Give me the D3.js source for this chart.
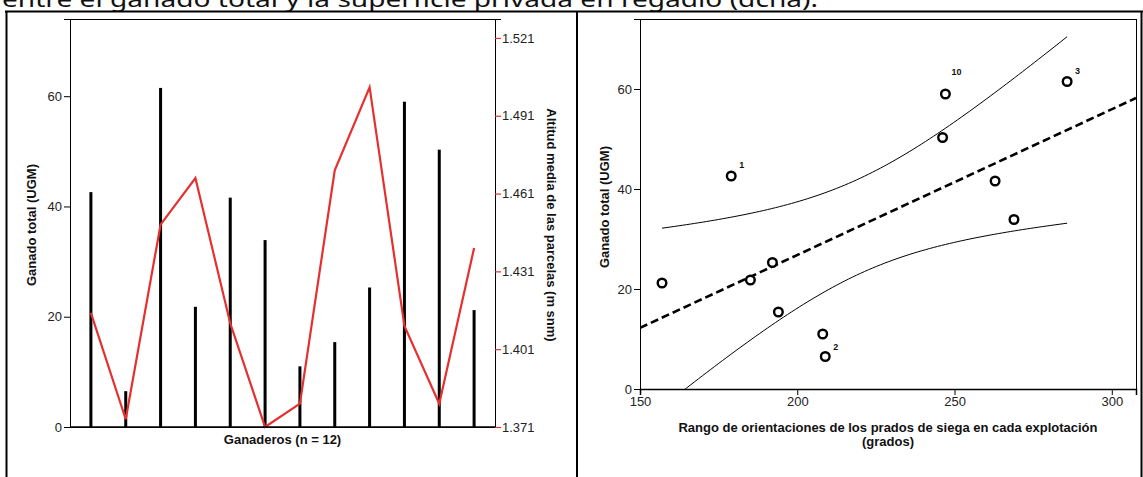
<!DOCTYPE html>
<html>
<head>
<meta charset="utf-8">
<script src="https://cdn.jsdelivr.net/npm/d3@7"></script>
<style>
  html, body { margin: 0; padding: 0; background: #fff; overflow: hidden; }
  svg { display: block; }
  text { font-family: "Liberation Sans", Arial, sans-serif; }
</style>
</head>
<body>
<svg id="chart" width="1143" height="477"></svg>
<script>
// Farmers (n = 12) and their values
const farmers = [1, 2, 3, 4, 5, 6, 7, 8, 9, 10, 11, 12];
const livestock = [42.6, 6.5, 61.5, 21.8, 41.6, 33.9, 11.0, 15.4, 25.3, 59.0, 50.3, 21.2];          // UGM
const altitude = [1415, 1374, 1449, 1467, 1411, 1371, 1380, 1470, 1502, 1410, 1380, 1440];         // m snm
const orientationRange = [179.0, 208.9, 285.8, 185.1, 262.9, 268.9, 208.1, 194.0, 192.1, 247.1, 246.2, 157.0]; // grados

// Axis ticks
const livestockTicks = [0, 20, 40, 60];
const altitudeTicks = [1371, 1401, 1431, 1461, 1491, 1521];
const rangeTicks = [150, 200, 250, 300];

// Farmers whose case number is printed next to their point
const labelledFarmers = [1, 2, 3, 10];

// Student t critical value, 95 %, df = n - 2 = 10
const T_CRIT = 2.228;

const caption = "entre el ganado total y la superficie privada en regadío (dcha).";

const svg = d3.select("#chart");
const es = d3.formatLocale({ decimal: ",", thousands: ".", grouping: [3], currency: ["", " €"] });
const fmtAlt = es.format(",d");
const RED = "#e5302f";
const TICK_COLOR = "#222";

// ---- caption and table frame ----
svg.append("text")
  .attr("x", 2).attr("y", 7)
  .attr("font-family", "'Noto Sans', 'Open Sans', sans-serif")
  .style("font-family", "'Noto Sans', 'Open Sans', sans-serif")
  .attr("font-size", 22)
  .attr("textLength", 816)
  .attr("lengthAdjust", "spacingAndGlyphs")
  .attr("fill", "#111")
  .text(caption);

const frame = svg.append("g").attr("stroke", "#000").attr("stroke-width", 2);
frame.append("line").attr("x1", 5).attr("x2", 1143).attr("y1", 11.5).attr("y2", 11.5);
frame.append("line").attr("x1", 6.5).attr("x2", 6.5).attr("y1", 11).attr("y2", 477);
frame.append("line").attr("x1", 577).attr("x2", 577).attr("y1", 11).attr("y2", 477);
frame.append("line").attr("x1", 1141.5).attr("x2", 1141.5).attr("y1", 11).attr("y2", 477);

// =========================================================
// Left panel: livestock per farmer (spikes) + mean altitude (red line)
// =========================================================
const L = { left: 70, right: 495, top: 19, bottom: 427 };

const xL = d3.scalePoint().domain(farmers).range([L.left, L.right]).padding(0.6);
const yL = d3.scaleLinear().domain([0, 74]).range([L.bottom, L.top]);
const yAlt = d3.scaleLinear().domain([1371, 1528.3]).range([L.bottom, L.top]);

const left = svg.append("g");

// plot box
left.append("rect")
  .attr("x", L.left).attr("y", L.top)
  .attr("width", L.right - L.left).attr("height", L.bottom - L.top)
  .attr("fill", "none").attr("stroke", "#000").attr("stroke-width", 1)
  .attr("shape-rendering", "crispEdges");

// spikes
left.append("g").selectAll("rect")
  .data(farmers)
  .join("rect")
  .attr("x", (d) => xL(d) - 1.5)
  .attr("width", 3)
  .attr("y", (d, i) => yL(livestock[i]))
  .attr("height", (d, i) => yL(0) - yL(livestock[i]))
  .attr("fill", "#000");

// altitude line
left.append("path")
  .datum(farmers)
  .attr("fill", "none")
  .attr("stroke", RED)
  .attr("stroke-width", 2.2)
  .attr("stroke-linejoin", "miter")
  .attr("d", d3.line().x((d) => xL(d)).y((d, i) => yAlt(altitude[i])));

// left y axis
const axL = left.append("g")
  .attr("transform", `translate(${L.left},0)`)
  .call(d3.axisLeft(yL).tickValues(livestockTicks).tickSize(6).tickPadding(2).tickFormat(d3.format("d")));
axL.select(".domain").attr("stroke", "#000");
axL.selectAll(".tick line").attr("stroke", "#000");
axL.selectAll(".tick text").attr("font-size", 13).attr("fill", TICK_COLOR)
  .style("font-family", "'Liberation Sans', Arial, sans-serif");

// right y axis (altitude)
const axR = left.append("g")
  .attr("transform", `translate(${L.right},0)`)
  .call(d3.axisRight(yAlt).tickValues(altitudeTicks).tickSize(6).tickPadding(1).tickFormat(fmtAlt));
axR.select(".domain").attr("stroke", "#000");
axR.selectAll(".tick line").attr("stroke", RED).attr("stroke-width", 1.2);
axR.selectAll(".tick text").attr("font-size", 13).attr("fill", TICK_COLOR)
  .style("font-family", "'Liberation Sans', Arial, sans-serif");

// bottom axis line
left.append("line")
  .attr("x1", L.left).attr("x2", L.right)
  .attr("y1", L.bottom).attr("y2", L.bottom)
  .attr("stroke", "#000").attr("stroke-width", 1.5);

// titles
left.append("text")
  .attr("transform", `translate(36,${(L.top + L.bottom) / 2 + 2}) rotate(-90)`)
  .attr("text-anchor", "middle")
  .attr("font-size", 13).attr("font-weight", "bold").attr("fill", "#111")
  .text("Ganado total (UGM)");

left.append("text")
  .attr("transform", `translate(547,${(L.top + L.bottom) / 2 + 2}) rotate(90)`)
  .attr("text-anchor", "middle")
  .attr("font-size", 13).attr("font-weight", "bold").attr("fill", "#111")
  .text("Altitud media de las parcelas (m snm)");

left.append("text")
  .attr("x", (L.left + L.right) / 2).attr("y", 444)
  .attr("text-anchor", "middle")
  .attr("font-size", 13).attr("font-weight", "bold").attr("fill", "#111")
  .text("Ganaderos (n = 12)");

// =========================================================
// Right panel: livestock vs orientation range, OLS fit + 95 % CI
// =========================================================
const R = { left: 640, right: 1136, top: 19, bottom: 389 };

const xR = d3.scaleLinear().domain([150, 307.7]).range([R.left, R.right]);
const yR = d3.scaleLinear().domain([0, 74]).range([R.bottom, R.top]);

const right = svg.append("g");

right.append("defs").append("clipPath").attr("id", "plotClip")
  .append("rect")
  .attr("x", R.left).attr("y", R.top)
  .attr("width", R.right - R.left).attr("height", R.bottom - R.top);

right.append("rect")
  .attr("x", R.left).attr("y", R.top)
  .attr("width", R.right - R.left).attr("height", R.bottom - R.top)
  .attr("fill", "none").attr("stroke", "#000").attr("stroke-width", 1)
  .attr("shape-rendering", "crispEdges");

// least squares fit
const n = farmers.length;
const mx = d3.mean(orientationRange);
const my = d3.mean(livestock);
let sxx = 0, sxy = 0;
for (let i = 0; i < n; i++) {
  sxx += (orientationRange[i] - mx) ** 2;
  sxy += (orientationRange[i] - mx) * (livestock[i] - my);
}
const slope = sxy / sxx;
const intercept = my - slope * mx;
let sse = 0;
for (let i = 0; i < n; i++) {
  sse += (livestock[i] - (intercept + slope * orientationRange[i])) ** 2;
}
const s = Math.sqrt(sse / (n - 2));
const fit = (x) => intercept + slope * x;
const halfWidth = (x) => T_CRIT * s * Math.sqrt(1 / n + (x - mx) ** 2 / sxx);

const plotArea = right.append("g").attr("clip-path", "url(#plotClip)");

// confidence band for the mean (from min to max observed x)
const [xmin, xmax] = d3.extent(orientationRange);
const bandX = d3.range(0, 101).map((k) => xmin + (xmax - xmin) * k / 100);
const ciLine = (sign) => d3.line()
  .x((x) => xR(x))
  .y((x) => yR(fit(x) + sign * halfWidth(x)))
  .curve(d3.curveLinear);

plotArea.append("path").datum(bandX)
  .attr("fill", "none").attr("stroke", "#000").attr("stroke-width", 1)
  .attr("d", ciLine(1));
plotArea.append("path").datum(bandX)
  .attr("fill", "none").attr("stroke", "#000").attr("stroke-width", 1)
  .attr("d", ciLine(-1));

// regression line across the whole x range
plotArea.append("line")
  .attr("x1", xR(xR.domain()[0])).attr("y1", yR(fit(xR.domain()[0])))
  .attr("x2", xR(xR.domain()[1])).attr("y2", yR(fit(xR.domain()[1])))
  .attr("stroke", "#000").attr("stroke-width", 2.6)
  .attr("stroke-dasharray", "8,4");

// points
right.append("g").selectAll("circle")
  .data(farmers)
  .join("circle")
  .attr("cx", (d, i) => xR(orientationRange[i]))
  .attr("cy", (d, i) => yR(livestock[i]))
  .attr("r", 4.3)
  .attr("fill", "#fff")
  .attr("stroke", "#000")
  .attr("stroke-width", 2.4);

// case labels
const labelOffset = { 1: [8, -8], 2: [8, -7], 3: [8, -8], 10: [6, -19] };
right.append("g").selectAll("text")
  .data(labelledFarmers)
  .join("text")
  .attr("x", (d) => xR(orientationRange[d - 1]) + labelOffset[d][0])
  .attr("y", (d) => yR(livestock[d - 1]) + labelOffset[d][1])
  .attr("font-size", 9).attr("font-weight", "bold").attr("fill", "#111")
  .text((d) => d);

// axes
const axY = right.append("g")
  .attr("transform", `translate(${R.left},0)`)
  .call(d3.axisLeft(yR).tickValues(livestockTicks).tickSize(6).tickPadding(2).tickFormat(d3.format("d")));
axY.select(".domain").attr("stroke", "#000");
axY.selectAll(".tick line").attr("stroke", "#000");
axY.selectAll(".tick text").attr("font-size", 13).attr("fill", TICK_COLOR)
  .style("font-family", "'Liberation Sans', Arial, sans-serif");

const axX = right.append("g")
  .attr("transform", `translate(0,${R.bottom})`)
  .call(d3.axisBottom(xR).tickValues(rangeTicks).tickSize(6).tickPadding(2).tickFormat(d3.format("d")));
axX.select(".domain").attr("stroke", "#000").attr("stroke-width", 1.5);
axX.selectAll(".tick line").attr("stroke", "#000");
axX.selectAll(".tick text").attr("font-size", 13).attr("fill", TICK_COLOR)
  .style("font-family", "'Liberation Sans', Arial, sans-serif");

right.append("text")
  .attr("transform", `translate(609,${(R.top + R.bottom) / 2 + 3}) rotate(-90)`)
  .attr("text-anchor", "middle")
  .attr("font-size", 13).attr("font-weight", "bold").attr("fill", "#111")
  .text("Ganado total (UGM)");

right.append("text")
  .attr("x", (R.left + R.right) / 2).attr("y", 432)
  .attr("text-anchor", "middle")
  .attr("font-size", 13).attr("font-weight", "bold").attr("fill", "#111")
  .text("Rango de orientaciones de los prados de siega en cada explotación");

right.append("text")
  .attr("x", (R.left + R.right) / 2).attr("y", 446)
  .attr("text-anchor", "middle")
  .attr("font-size", 13).attr("font-weight", "bold").attr("fill", "#111")
  .text("(grados)");
</script>
</body>
</html>
